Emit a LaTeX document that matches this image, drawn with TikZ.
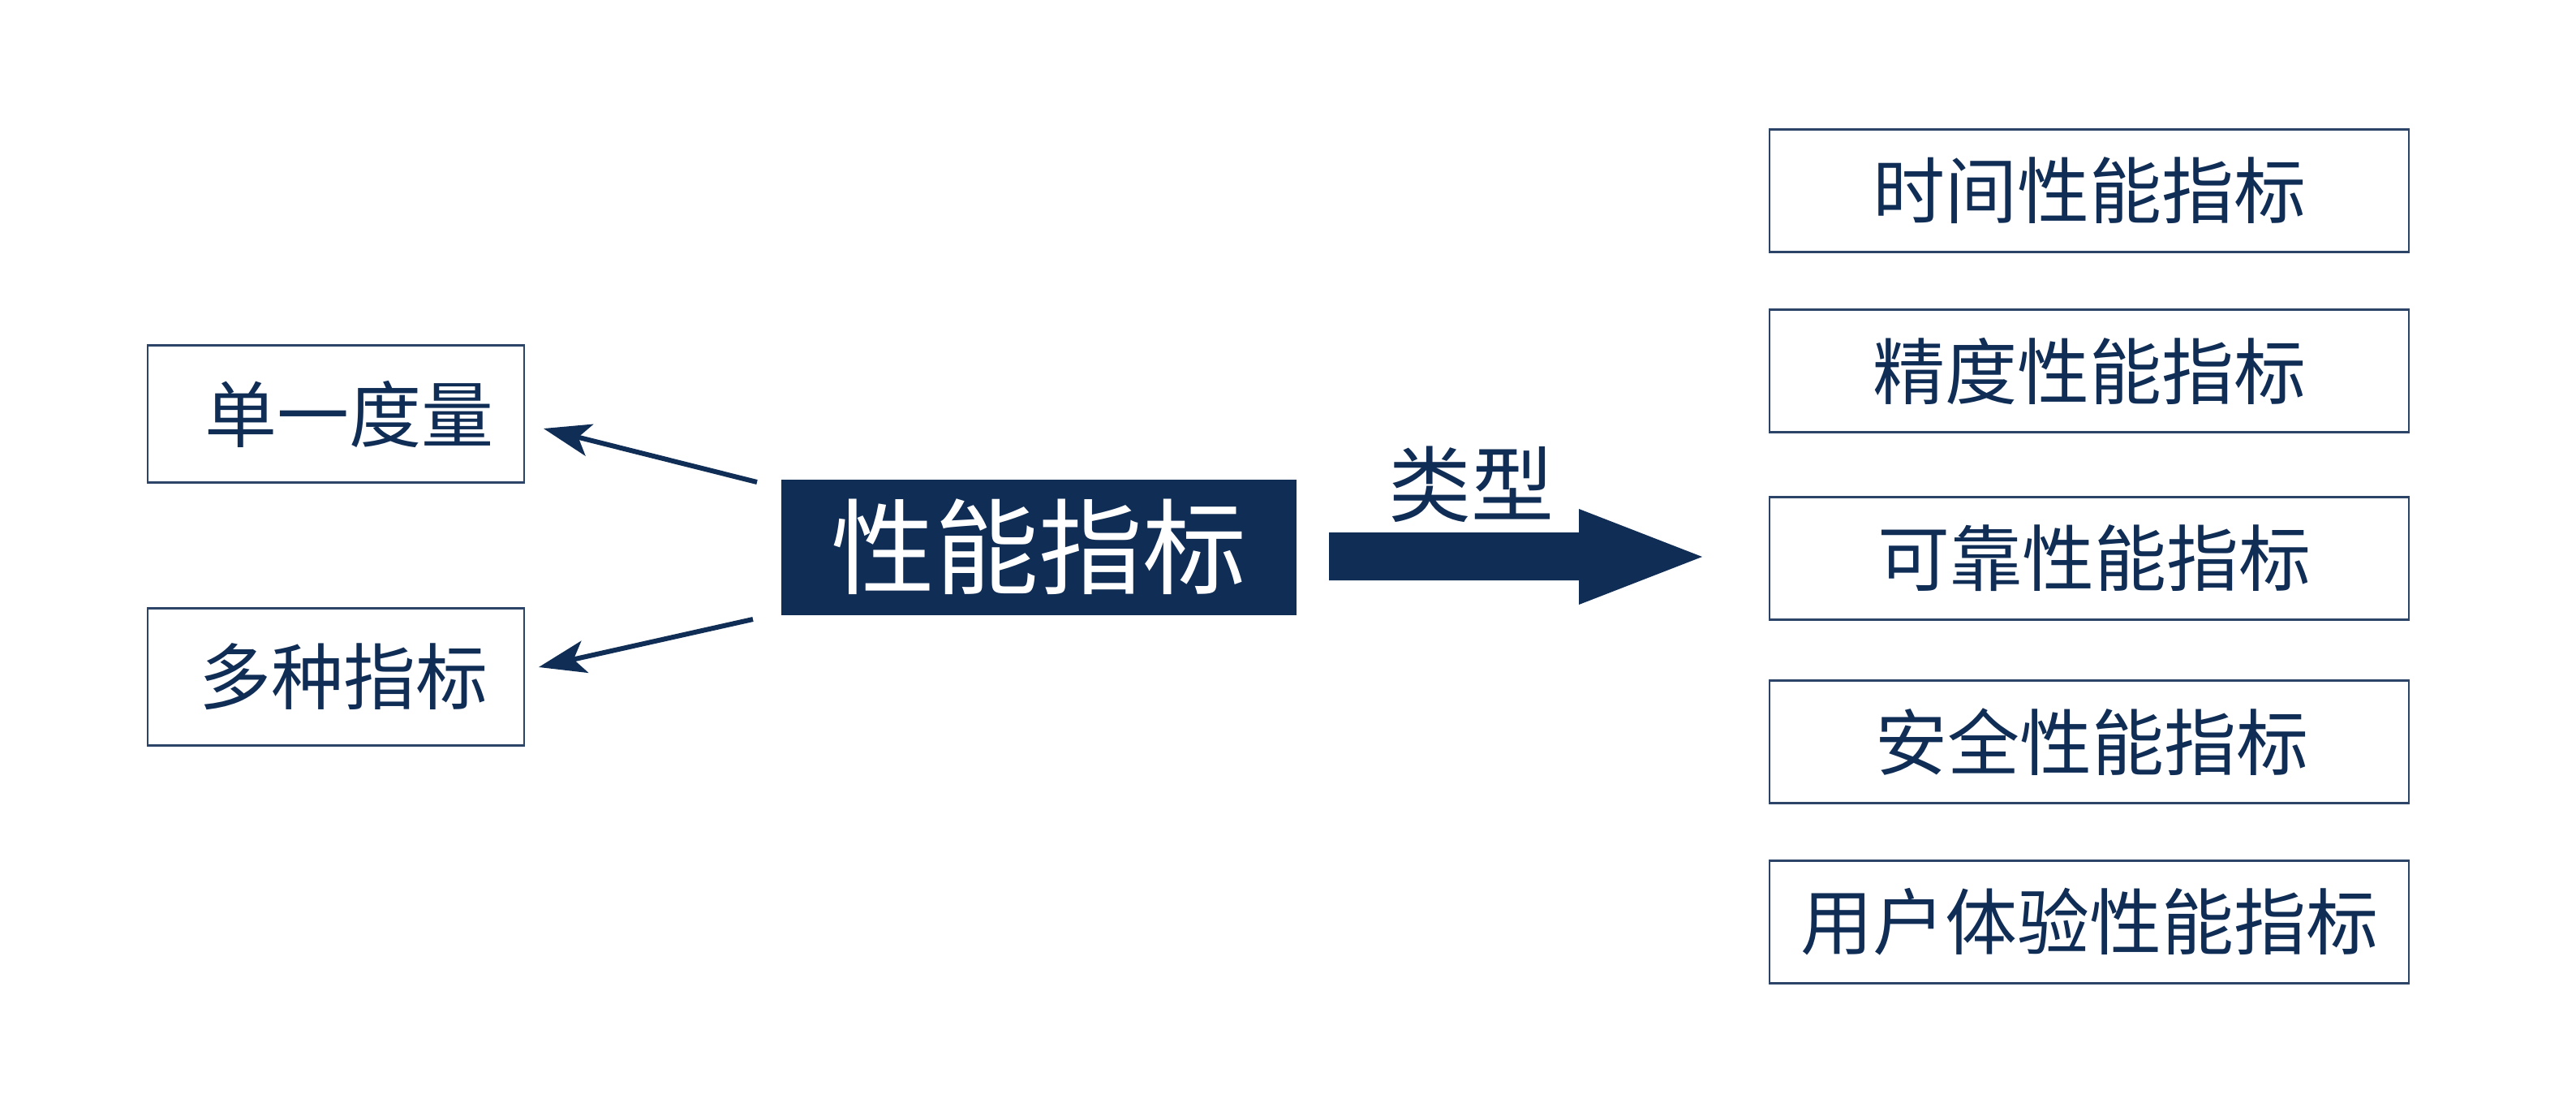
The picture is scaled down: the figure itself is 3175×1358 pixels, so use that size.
\documentclass[tikz,border=0pt]{standalone}
\usepackage{fontspec}
\newfontfamily\cjk{Noto Sans CJK SC}
\usetikzlibrary{arrows.meta}
\definecolor{navy}{HTML}{102D56}
\definecolor{boxline}{HTML}{2B4468}
\begin{document}
\begin{tikzpicture}[x=1pt,y=-1pt,
  leftbox/.style={draw=boxline, line width=2.5pt, fill=white, minimum width=464pt, minimum height=169pt, inner sep=0pt, text=navy, font=\cjk\fontsize{89}{100}\selectfont},
  rightbox/.style={draw=boxline, line width=2.5pt, fill=white, minimum width=788pt, minimum height=151pt, inner sep=0pt, text=navy, font=\cjk\fontsize{89}{100}\selectfont},
  mainbox/.style={fill=navy, minimum width=635pt, minimum height=167pt, inner sep=0pt, text=white, font=\cjk\fontsize{128}{140}\selectfont},
  thinarrow/.style={draw=navy, line width=6pt, -{Stealth[length=58pt,width=40pt,inset=14pt]}},
  lbl/.style={text=navy, font=\cjk\fontsize{102}{110}\selectfont, inner sep=0pt}
]
\useasboundingbox (0,0) rectangle (3175,1358);

% left boxes
\node[leftbox] (single) at (414,510) {\hspace{32pt}单一度量};
\node[leftbox] (multi) at (414,834) {\hspace{18pt}多种指标};

% main box
\node[mainbox] (main) at (1280,674) {性能指标};

% right boxes
\node[rightbox] (r1) at (2575,235) {时间性能指标};
\node[rightbox] (r2) at (2575,457) {精度性能指标};
\node[rightbox] (r3) at (2575,688) {\hspace{12pt}可靠性能指标};
\node[rightbox] (r4) at (2575,914) {\hspace{6pt}安全性能指标};
\node[rightbox] (r5) at (2575,1136) {用户体验性能指标};

% thin arrows
\coordinate (a1s) at (933,594);
\coordinate (a1e) at (670,528);
\coordinate (a2s) at (928,763);
\coordinate (a2e) at (664,822);
\draw[thinarrow] (a1s) -- (a1e);
\draw[thinarrow] (a2s) -- (a2e);

% big arrow
\coordinate (bigtail) at (1638,684);
\coordinate (bigtip) at (2098,686);
\fill[navy] (1638,656) -- (1946,656) -- (1946,627) -- (bigtip) -- (1946,745) -- (1946,715) -- (1638,715) -- cycle;

\node[lbl] (type) at (1813,597) {类型};
\end{tikzpicture}
\end{document}
